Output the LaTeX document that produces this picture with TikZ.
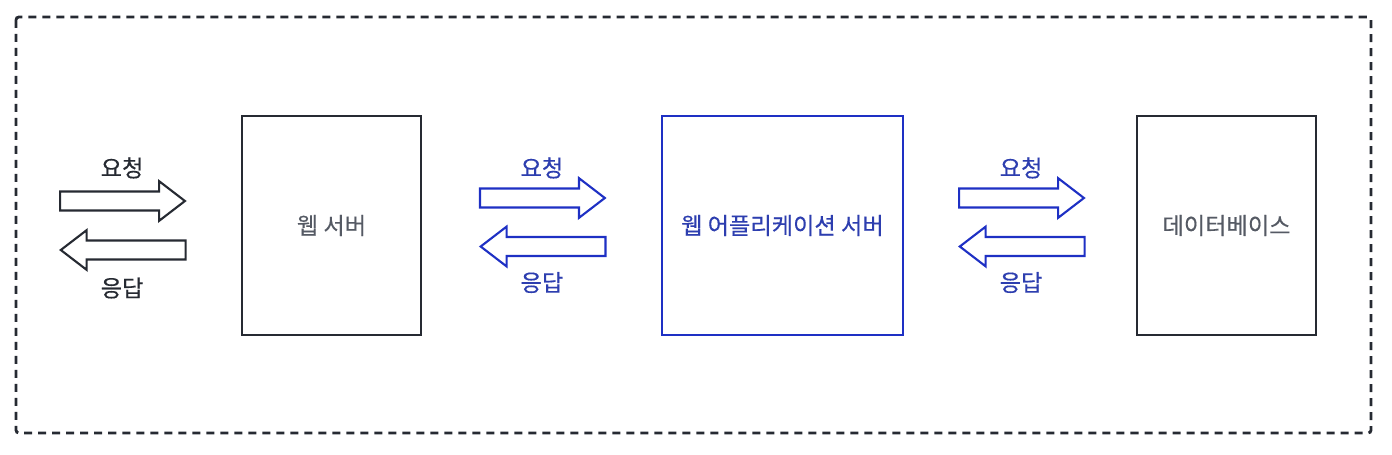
\documentclass[tikz,border=0pt]{standalone}
\usepackage{fontspec}
\setmainfont{Noto Sans CJK KR}
\newfontfamily\krfont[FakeBold=0.35]{Noto Sans CJK KR}
\usetikzlibrary{positioning,shapes.arrows,calc}
\definecolor{framegray}{RGB}{38,42,50}
\definecolor{textgray}{RGB}{85,90,100}
\definecolor{appblue}{RGB}{30,48,196}
\definecolor{labelblue}{RGB}{45,62,175}

\begin{document}
\begin{tikzpicture}[
    x=0.025cm, y=-0.025cm,
    box/.style={draw,line width=1.3pt,minimum width=4.475cm,minimum height=5.475cm,font=\krfont\fontsize{16.5}{20}\selectfont,inner sep=0pt},
    flow/.style={single arrow,draw,line width=1.5pt,fill=white,inner sep=0.21cm,minimum height=3.12cm,single arrow head extend=0.26cm,single arrow tip angle=75},
    lbl/.style={font=\krfont\fontsize{16.5}{20}\selectfont}
  ]
    \useasboundingbox (0,0) rectangle (1392,454);
    \draw[framegray,line width=2pt,dash pattern=on 0.2cm off 0.15cm,rounded corners=2pt] (16,17) rectangle (1371,433);

    \node[box,draw=framegray,text=textgray] (web) at (331.5,225.5) {웹 서버};
    \node[box,draw=appblue,text=labelblue,line width=1.7pt,minimum width=6.02cm,right=5.97cm of web] (app) {웹 어플리케이션 서버};
    \node[box,draw=framegray,text=textgray,right=5.8cm of app] (db) {데이터베이스};

    \coordinate (gapA) at ($(web.west)+(-182,0)$);
    \coordinate (gapB) at ($(web.east)+(57,0)$);
    \coordinate (gapC) at ($(app.east)+(54,0)$);

    \node[flow,draw=framegray,anchor=tail] (reqA) at ($(gapA)+(0,-24.5)$) {};
    \node[flow,draw=framegray,shape border rotate=180,anchor=tip] (resA) at ($(gapA)+(0,24.5)$) {};
    \node[lbl,text=framegray] (reqAlbl) at ($(gapA)+(63,-57.5)$) {요청};
    \node[lbl,text=framegray] (resAlbl) at ($(gapA)+(63,62.5)$) {응답};

    \node[flow,draw=appblue,anchor=tail] (reqB) at ($(gapB)+(0,-27.5)$) {};
    \node[flow,draw=appblue,shape border rotate=180,anchor=tip] (resB) at ($(gapB)+(0,21)$) {};
    \node[lbl,text=labelblue] (reqBlbl) at ($(gapB)+(63,-57.5)$) {요청};
    \node[lbl,text=labelblue] (resBlbl) at ($(gapB)+(63,57)$) {응답};

    \node[flow,draw=appblue,anchor=tail] (reqC) at ($(gapC)+(0,-27.5)$) {};
    \node[flow,draw=appblue,shape border rotate=180,anchor=tip] (resC) at ($(gapC)+(0,21)$) {};
    \node[lbl,text=labelblue] (reqClbl) at ($(gapC)+(63,-57.5)$) {요청};
    \node[lbl,text=labelblue] (resClbl) at ($(gapC)+(63,57)$) {응답};
  \end{tikzpicture}
\end{document}
